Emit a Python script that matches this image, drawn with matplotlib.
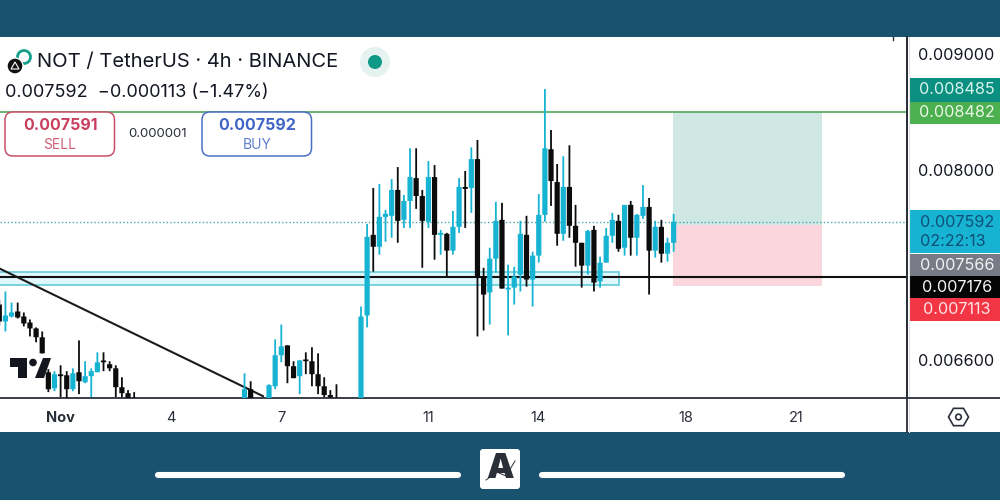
import numpy as np
import matplotlib
matplotlib.use("Agg")
import matplotlib.pyplot as plt
from matplotlib.patches import Rectangle, FancyBboxPatch, Circle, Polygon, RegularPolygon
from matplotlib.ticker import NullLocator, FixedLocator, FixedFormatter

plt.rcParams['font.family'] = ['Inter', 'DejaVu Sans']

# ---- data (prices in millionths of USDT) ----
candle_index = list(range(0, 23)) + [40, 41] + list(range(44, 56)) + list(range(59, 111))
opens = [6980,6861,6896,6931,6896,6854,6813,6752,6517,6412,6497,6497,6406,6517,6451,6491,6517,6590,6570,6543,6419,6380,6340,
         6330,6406,
         6330,6425,6630,6697,6557,6491,6596,6590,6504,6425,6368,6342,
         6300,6903,7491,7401,7629,7637,7840,7606,7753,7935,7792,7591,7943,7491,7499,7372,7552,7864,7856,8089,7181,7066,7312,7606,7087,7101,7195,7491,
         7159,7335,7644,8170,7903,7499,7864,7560,7431,7261,7529,7145,7283,7484,7598,7394,7722,7469,7637,7706,7372,7552,7349,7431]
highs = [7015,7073,6994,6994,6924,6875,6820,6792,6537,6524,6563,6524,6543,6731,6590,6543,6650,6650,6590,6563,6484,6400,6387,
         6510,6458,
         6438,6738,6840,6697,6590,6596,6650,6684,6643,6484,6400,6438,
         6966,7575,7856,7888,7683,7927,8024,7800,8178,8178,7840,8073,8040,7529,7506,7675,7935,7992,8186,8247,7245,7394,7746,7738,7268,7253,7598,7637,
         7364,7808,8685,8331,8049,8113,8203,7722,7431,7529,7560,7327,7544,7660,7645,7722,7753,7652,7879,7776,7598,7606,7469,7652]
lows = [6833,6792,6889,6882,6827,6758,6718,6643,6387,6393,6355,6342,6393,6374,6445,6355,6517,6524,6524,6355,6355,6330,6300,
        6320,6310,
        6320,6406,6583,6445,6478,6374,6504,6425,6374,6355,6335,6320,
        6280,6820,7217,7342,7439,7469,7431,7544,7544,7691,7245,7544,7305,7342,7181,7342,7506,7544,7660,6758,6799,6840,7210,7094,6765,6980,7073,7108,
        6966,7283,7591,7714,7409,7446,7469,7253,7101,7195,7073,7101,7283,7431,7364,7335,7335,7335,7614,7051,7320,7283,7290,7364]
closes = [6861,6903,6924,6889,6847,6813,6752,6643,6406,6504,6491,6406,6510,6458,6491,6524,6583,6583,6543,6419,6380,6342,6320,
          6406,6330,
          6432,6630,6690,6557,6478,6596,6590,6504,6425,6368,6355,6330,
          6896,7476,7401,7629,7652,7840,7598,7753,7943,7792,7598,7943,7491,7506,7372,7552,7864,7848,8089,7181,7051,7312,7598,7094,7101,7181,7499,7159,
          7335,7644,8178,7911,7499,7864,7560,7431,7261,7521,7137,7283,7484,7606,7386,7722,7469,7644,7706,7372,7552,7349,7431,7591]

day_ticks = [1, 4, 7, 11, 14, 18, 21]
day_labels = ['Nov', '4', '7', '11', '14', '18', '21']
price_ticks = [0.009, 0.008, 0.0066]

target_price = 0.008482
entry_price = 0.007566
stop_price = 0.007113
last_price = 0.007592
level_price = 0.007176
zone_top, zone_bottom = 0.007217, 0.007123
trend_days = [-0.639, 6.51]
trend_prices = [0.007238, 0.006361]
box_days = [17.66, 21.71]
zone_end_day = 16.2

pane_prices = ['0.008485', '0.008482', '0.007592', '0.007566', '0.007176', '0.007113']

# ---- colours ----
BAND = '#18526e'
TEAL = '#16b4d2'
BLACK = '#0c0c0c'

fig = plt.figure(figsize=(10, 5), dpi=100, facecolor='white')
ax = fig.add_axes([0, 102/500, 0.907, 361/500])
ax.set_yscale('log')
ax.set_xlim(-0.639, 24.02)
ax.set_ylim(0.006349, 0.009155)
ax.yaxis.set_major_locator(FixedLocator(price_ticks))
ax.yaxis.set_major_formatter(FixedFormatter([f'{p:.6f}' for p in price_ticks]))
ax.yaxis.set_minor_locator(NullLocator())
ax.yaxis.tick_right()
ax.set_xticks(day_ticks)
ax.set_xticklabels(day_labels)
ax.tick_params(axis='y', length=0, pad=8.2, labelsize=11.7, labelcolor='#131722')
ax.tick_params(axis='x', length=0, pad=9.5, labelsize=10.5, labelcolor='#2a2e39')
ax.get_xticklabels()[0].set_fontweight('bold')
for s in ['top', 'left']:
    ax.spines[s].set_visible(False)
for s in ['bottom', 'right']:
    ax.spines[s].set_color('#2a2e39')
    ax.spines[s].set_linewidth(1.3)

# position tool
ax.add_patch(Rectangle((box_days[0], entry_price), box_days[1]-box_days[0], target_price-entry_price,
                       fc='#cfe8e3', ec='none', zorder=1))
ax.add_patch(Rectangle((box_days[0], stop_price), box_days[1]-box_days[0], entry_price-stop_price,
                       fc='#fbd6dc', ec='none', zorder=1))
# support zone
ax.add_patch(Rectangle((-1, zone_bottom), zone_end_day+1, zone_top-zone_bottom,
                       fc='#e0f7fb', ec='#6fd0dc', lw=1.3, zorder=1.5))
# levels
ax.axhline(target_price, color='#4fa85a', lw=1.2, zorder=2)
ax.axhline(last_price, color='#4aa6a6', lw=1.0, ls=(0, (1, 1.6)), zorder=2)
ax.axhline(level_price, color='#111111', lw=1.5, zorder=2)
ax.plot(trend_days, trend_prices, color='#1b1b1b', lw=1.5, zorder=2.5)

# candles
days = -0.658 + np.array(candle_index) / 6
o, h, l, c = [np.array(v) * 1e-6 for v in (opens, highs, lows, closes)]
cols = [TEAL if ci >= oi else BLACK for oi, ci in zip(o, c)]
wicks = ax.vlines(days, l, h, colors=cols, lw=1.3, zorder=3)
wicks.set_snap(False)
bars = ax.bar(days, np.maximum(np.abs(c-o), 1.2e-5), bottom=np.minimum(o, c), width=5.2/36.78,
              color=cols, zorder=3.5, linewidth=0)
for b in bars:
    b.set_snap(False)

# ---- chrome in pixel coordinates ----
ov = fig.add_axes([0, 0, 1, 1], zorder=10, facecolor='none')
ov.set_xlim(0, 1000)
ov.set_ylim(500, 0)
ov.axis('off')

ov.add_patch(Rectangle((0, 0), 1000, 37, fc=BAND, ec='none'))
ov.add_patch(Rectangle((0, 432), 1000, 68, fc=BAND, ec='none'))
ov.plot([907, 907], [37, 432], color='#2a2e39', lw=1.3)
ov.plot([909, 909], [37, 432], color='#e3e3e6', lw=0.8)
ov.plot([907, 1000], [398, 398], color='#2a2e39', lw=1.3)
ov.plot([893, 893], [37, 40], color='#2a2e39', lw=1)

# price pane labels
spans = [(78, 101.5, '#0b8f80', '#d9f3ee'), (101.5, 124, '#4caf50', '#eaf7e4'),
         (210, 253, TEAL, '#0f4f78'), (254, 276, '#787b86', '#f2f2f2'),
         (276, 298, '#050505', '#f5f5f5'), (298, 321, '#f23645', '#ffe3e3')]
for (y0, y1, fc, tc), txt in zip(spans, pane_prices):
    ov.add_patch(Rectangle((909, y0), 91, y1-y0, fc=fc, ec='none'))
    ty = (y0+y1)/2 if y1-y0 < 30 else y0+12.5
    ov.text(957, ty, txt, color=tc, fontsize=11.7, ha='center', va='center')
ov.text(953, 241, '02:22:13', color='#0f4f78', fontsize=11.7, ha='center', va='center')

# title block
ov.add_patch(Circle((24, 57), 6.5, fc='white', ec='#12a08c', lw=2))
ov.add_patch(Circle((15, 66), 8, fc='#111111', ec='white', lw=1))
ov.add_patch(Polygon([(11, 69), (15, 62), (19, 69)], closed=True, fc='none', ec='white', lw=0.8))
ov.text(37, 62, 'NOT / TetherUS · 4h · BINANCE', fontsize=14.5, color='#131722', ha='left', va='center')
ov.add_patch(Circle((375, 62), 15, fc='#e6f2f0', ec='none'))
ov.add_patch(Circle((375, 62), 7, fc='#0e9a86', ec='none'))
ov.text(5, 92.5, '0.007592  −0.000113 (−1.47%)', fontsize=13, color='#131722', ha='left', va='center')

for x0, ec, tc, lc, val, lab in [(5, '#c9506a', '#c9405e', '#cf5f78', '0.007591', 'SELL'),
                                 (202, '#4a6fc4', '#3f66c6', '#5f7fcf', '0.007592', 'BUY')]:
    ov.add_patch(FancyBboxPatch((x0, 112), 109.5, 44, boxstyle='round,pad=0,rounding_size=8', fc='white', ec=ec, lw=1.1))
    ov.text(x0+55, 125, val, fontsize=11.5, fontweight='bold', color=tc, ha='center', va='center')
    ov.text(x0+55, 145, lab, fontsize=10, color=lc, ha='center', va='center')
ov.text(157.5, 134, '0.000001', fontsize=9.5, color='#2a2e39', ha='center', va='center')

# TradingView mark
ov.add_patch(Polygon([(10, 358), (27, 358), (27, 378), (18, 378), (18, 367), (10, 367)], closed=True, fc='#14161f', ec='none'))
ov.add_patch(Circle((33, 362.5), 3.8, fc='#14161f', ec='none'))
ov.add_patch(Polygon([(35, 378), (44, 378), (51, 358), (43, 358)], closed=True, fc='#14161f', ec='none'))

# settings icon
ov.add_patch(RegularPolygon((958.5, 417), 6, radius=10, orientation=np.pi/6, fc='white', ec='#2a2e39', lw=1.2))
ov.add_patch(Circle((958.5, 417), 2.8, fc='white', ec='#2a2e39', lw=1.2))

# footer
ov.plot([158, 458], [475, 475], color='white', lw=4.4, solid_capstyle='round')
ov.plot([542, 842], [475, 475], color='white', lw=4.4, solid_capstyle='round')
ov.add_patch(FancyBboxPatch((480, 449), 40, 40, boxstyle='round,pad=0,rounding_size=3', fc='white', ec='none'))
ov.text(500, 469, 'A', fontsize=25, fontweight='black', color='#2b2f38', ha='center', va='center')
ov.plot([486, 497, 506, 515], [480, 472, 476, 461], color='white', lw=2.4)
ov.plot([486, 497, 506, 515], [480, 472, 476, 461], color='#2b2f38', lw=0.7)

fig.savefig('out.png', dpi=100)
